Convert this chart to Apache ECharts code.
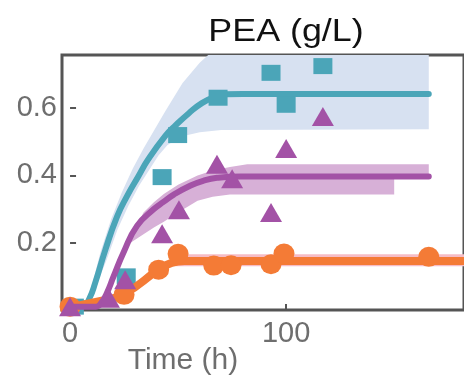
<!DOCTYPE html>
<html>
<head>
<meta charset="utf-8">
<script src="https://cdn.jsdelivr.net/npm/echarts@6/dist/echarts.min.js"></script>
<style>
  html, body { margin: 0; padding: 0; background: #fff; }
  #chart { width: 464px; height: 379px; }
</style>
</head>
<body>
<div id="chart"></div>
<script>
// Tick positions
const xTicks = [0, 100];
const yTicks = [0.2, 0.4, 0.6];

// Measured PEA titres (g/L) against time (h), one array per strain
const tealPoints = [[2, 0.01], [26, 0.10], [42.6, 0.395], [49.8, 0.52], [68.5, 0.631], [93, 0.705], [100, 0.61], [117, 0.725]];
const purplePoints = [[0, 0.01], [18, 0.035], [25.5, 0.09], [42.6, 0.227], [50.4, 0.298], [68, 0.433], [75, 0.39], [93, 0.29], [100, 0.48], [117, 0.575]];
const orangePoints = [[0, 0.01], [25, 0.045], [41, 0.12], [50, 0.167], [66.5, 0.132], [74.5, 0.133], [93, 0.136], [99, 0.168], [166, 0.158]];

// Model fits
const tealFit = [[0, 0.02], [7, 0.02], [9, 0.035], [11.6, 0.08], [16.3, 0.178], [21.7, 0.277], [26.5, 0.34], [31.5, 0.396], [36, 0.446], [44, 0.517], [49, 0.55], [55, 0.585], [61, 0.615], [67, 0.634], [72, 0.641], [80, 0.642], [120, 0.642], [166, 0.642]];
const purpleFit = [[0, 0.01], [12, 0.01], [14.5, 0.022], [17, 0.05], [20.1, 0.099], [24.8, 0.172], [31, 0.25], [38.8, 0.30], [43.4, 0.322], [48, 0.343], [55.8, 0.37], [62, 0.385], [68, 0.393], [79, 0.397], [90, 0.397], [130, 0.397], [166, 0.397]];
const orangeFit = [[0, 0.01], [12.5, 0.025], [25, 0.048], [41, 0.12], [47, 0.14], [53, 0.146], [62, 0.146], [120, 0.146], [182.3, 0.146]];

// Confidence bands (upper edge, lower edge)
const tealBandUpper = [[7, 0.02], [10, 0.07], [14, 0.17], [19, 0.27], [24, 0.35], [29, 0.42], [34, 0.48], [39, 0.535], [44, 0.59], [52, 0.674], [60, 0.735], [66, 0.77], [166, 0.9]];
const tealBandLower = [[7, 0.02], [12, 0.07], [17, 0.15], [22, 0.24], [27, 0.31], [32, 0.37], [36, 0.41], [41, 0.46], [45, 0.49], [51, 0.515], [60, 0.528], [70, 0.535], [166, 0.537]];
const purpleBandUpper = [[28, 0.215], [34, 0.29], [38.8, 0.32], [43.4, 0.345], [50, 0.372], [59, 0.40], [66, 0.415], [74, 0.425], [82, 0.433], [166, 0.433], [166, 0.397]];
const purpleBandLower = [[28, 0.20], [34, 0.225], [38.8, 0.245], [43.4, 0.262], [50, 0.29], [59, 0.325], [66, 0.337], [74, 0.343], [150, 0.343], [150, 0.397]];
const orangeBandUpper = [[49, 0.15], [55, 0.166], [182.3, 0.166]];
const orangeBandLower = [[49, 0.13], [55, 0.13], [182.3, 0.13]];

const TEAL = '#4ba5b8';
const PURPLE = '#a352a6';
const ORANGE = '#f47b36';
const AXIS = '#555555';
const LABEL = '#6e6e6e';
const FONT = '"Liberation Sans", Arial, sans-serif';

// Filled region between two curves, clipped to the plot area
function band(upper, lower, color) {
  return {
    type: 'custom',
    silent: true,
    z: 1,
    data: [[0, 0]],
    renderItem: function (params, api) {
      const pts = upper.concat(lower.slice().reverse()).map(function (p) { return api.coord(p); });
      const cs = params.coordSys;
      return {
        type: 'polygon',
        shape: { points: pts },
        style: { fill: color },
        clipPath: { type: 'rect', shape: { x: cs.x, y: cs.y, width: cs.width, height: cs.height } }
      };
    }
  };
}

function fit(data, color, width, z) {
  return {
    type: 'line', data: data, showSymbol: false, silent: true, z: z,
    smooth: 0.5,
    lineStyle: { color: color, width: width, cap: 'round', join: 'round' }
  };
}

function points(data, symbol, size, color, z) {
  return {
    type: 'scatter', data: data, symbol: symbol, symbolSize: size, z: z, silent: true,
    itemStyle: { color: color, opacity: 1 }
  };
}

const chart = echarts.init(document.getElementById('chart'), null, { renderer: 'canvas' });
chart.setOption({
  animation: false,
  backgroundColor: '#ffffff',
  grid: {
    left: 62, top: 55, right: -2, bottom: 69,
    show: true, borderColor: AXIS, borderWidth: 3, backgroundColor: 'transparent'
  },
  xAxis: {
    type: 'value', min: -3.72, max: 182.3,
    axisLine: { show: false },
    splitLine: { show: false },
    axisTick: { show: true, inside: true, length: 6, customValues: xTicks, lineStyle: { color: AXIS, width: 2 } },
    axisLabel: { customValues: xTicks, fontSize: 29, color: LABEL, margin: 9, fontFamily: FONT }
  },
  yAxis: {
    type: 'value', min: 0, max: 0.758,
    axisLine: { show: false },
    splitLine: { show: false },
    axisTick: { show: true, inside: true, length: 6, customValues: yTicks, lineStyle: { color: AXIS, width: 2 } },
    axisLabel: { customValues: yTicks, fontSize: 29, color: LABEL, margin: 5, fontFamily: FONT,
      formatter: function (v) { return v.toFixed(1); } }
  },
  graphic: [
    { type: 'text', x: 286, y: 32, scaleX: 1.12, originX: 0, originY: 0,
      style: { text: 'PEA (g/L)', font: '32px ' + FONT, fill: '#111111', align: 'center', verticalAlign: 'middle' } },
    { type: 'text', x: 183, y: 361,
      style: { text: 'Time (h)', font: '30px ' + FONT, fill: LABEL, align: 'center', verticalAlign: 'middle' } }
  ],
  series: [
    band(tealBandUpper, tealBandLower, '#d7e1f1'),
    band(purpleBandUpper, purpleBandLower, '#d7b0d7'),
    band(orangeBandUpper, orangeBandLower, '#f6bcc6'),
    fit(tealFit, TEAL, 6, 3),
    points(tealPoints, 'rect', [19, 16], TEAL, 4),
    fit(orangeFit, ORANGE, 8, 5),
    points(orangePoints, 'circle', [21, 20], ORANGE, 6),
    fit(purpleFit, PURPLE, 6, 7),
    points(purplePoints, 'triangle', [22, 19], PURPLE, 8)
  ]
});
</script>
</body>
</html>
